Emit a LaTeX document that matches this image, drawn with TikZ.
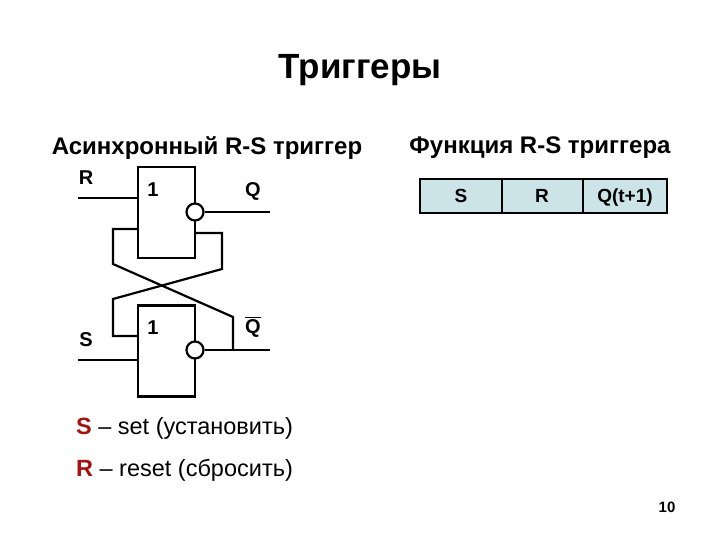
\documentclass[tikz,border=0pt]{standalone}
\usepackage{fontspec}
\setmainfont{Liberation Sans}
\definecolor{cellblue}{RGB}{204,228,232}
\definecolor{darkred}{RGB}{160,20,20}
\begin{document}
\begin{tikzpicture}[x=1pt,y=-1pt,line width=2.2pt,
  lbl/.style={font=\fontsize{20}{22}\selectfont\bfseries,inner sep=0},
  wire/.style={line width=2.2pt},
  cell/.style={inner sep=0,anchor=base,font=\fontsize{19}{22}\selectfont\bfseries},
  txt/.style={font=\fontsize{23.5}{27}\selectfont,inner sep=0,anchor=west}]
\useasboundingbox (0,0) rectangle (720,540);
\node[inner sep=0,font=\fontsize{35}{40}\selectfont\bfseries] (title) at (360,70) {Триггеры};
\node[inner sep=0,font=\fontsize{24}{28}\selectfont\bfseries] (st1) at (207,148) {Асинхронный R-S триггер};
\node[inner sep=0,font=\fontsize{24}{28}\selectfont\bfseries] (st2) at (540,148) {Функция R-S триггера};
% gates
\node[draw,line width=2.2pt,minimum width=57,minimum height=91,inner sep=0] (g1) at (166.5,212.5) {};
\node[draw,line width=2.2pt,minimum width=57,minimum height=91,inner sep=0] (g2) at (166.5,351) {};
\node[lbl] (one1) at (153,190) {1};
\node[lbl] (one2) at (153,328) {1};
\node[draw,circle,fill=white,line width=2.2pt,minimum size=17,inner sep=0] (b1) at (195,212) {};
\node[draw,circle,fill=white,line width=2.2pt,minimum size=17,inner sep=0] (b2) at (195,350) {};
\node[lbl] (R) at (86,178) {R};
\node[lbl] (S) at (86,340) {S};
\node[lbl] (Q) at (253,191) {Q};
\node[lbl] (Qb) at (253,327) {$\overline{\mbox{Q}}$};
\coordinate (rin) at (78,198); \coordinate (sin) at (78,360);
\coordinate (qout) at (270,212); \coordinate (qbout) at (270,350);
\draw[wire] (rin) -- (rin -| g1.west);
\draw[wire] (sin) -- (sin -| g2.west);
\draw[wire] (b1.east) -- (qout);
\draw[wire] (b2.east) -- (qbout);
% cross feedback
\draw[wire] (138,229) -- (113,229) -- (113,264) -- (233,317) -- (233,350);
\draw[wire] (195,233) -- (222,233) -- (222,269) -- (113,299) -- (113,336) -- (138,336);
% table
\draw[fill=cellblue,line width=1.5pt] (420,179) rectangle (667,213);
\draw[line width=1.5pt] (502,179) -- (502,213) (583,179) -- (583,213);
\node[cell] (cs) at (461,203) {S};
\node[cell] (cr) at (542,203) {R};
\node[cell] (cq) at (625,203) {Q(t+1)};
% text
\node[txt] (t1) at (75,428) {\textcolor{darkred}{\textbf{S}} – set (установить)};
\node[txt] (t2) at (75,470) {\textcolor{darkred}{\textbf{R}} – reset (сбросить)};
\node[inner sep=0,font=\fontsize{15}{18}\selectfont\bfseries] (pg) at (667,507) {10};
\end{tikzpicture}
\end{document}
